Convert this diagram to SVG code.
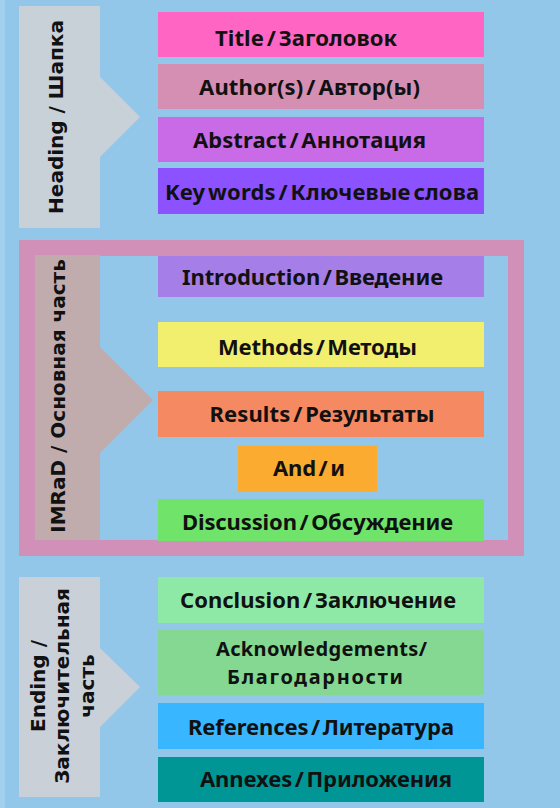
<svg xmlns="http://www.w3.org/2000/svg" width="560" height="808" viewBox="0 0 560 808">
<style>
.lbl{font-family:"Noto Sans","Open Sans",sans-serif;font-weight:bold;font-size:22px;word-spacing:-3px;fill:#111;text-anchor:middle}
.ack{font-size:20px}
.side{font-family:"DejaVu Sans","Liberation Sans",sans-serif;font-weight:bold;font-size:20px;fill:#111;text-anchor:middle}
</style>
<rect x="0" y="0" width="560" height="808" fill="#93c7ea"/>
<rect x="0" y="0" width="5" height="808" fill="#a2d0ef"/>
<g id="heading">
<path d="M19 6H100V77L140 117L100 157V228H19Z" fill="#c8d0d8"/>
<text class="side" transform="translate(63 117) rotate(-90)">Heading / Шапка</text>
</g>
<g id="imrad">
<rect x="27" y="248" width="489" height="300" fill="none" stroke="#d190b8" stroke-width="16"/>
<path d="M35 255H100V347L153 400L100 453V540H35Z" fill="#c0acac"/>
<text class="side" transform="translate(65 396) rotate(-90)">IMRaD / Основная часть</text>
</g>
<g id="ending">
<path d="M19 577H100V648L140 687L100 727V797H19Z" fill="#c9d0d8"/>
<text class="side" transform="translate(45 686) rotate(-90)">Ending /</text>
<text class="side" transform="translate(69 686) rotate(-90)">Заключительная</text>
<text class="side" transform="translate(94 686) rotate(-90)">часть</text>
</g>
<g id="title"><rect x="158" y="12" width="326" height="45" fill="#ff66c4"/><text class="lbl" x="306" y="46" textLength="182" lengthAdjust="spacing">Title / Заголовок</text></g>
<g id="authors"><rect x="158" y="64" width="326" height="45" fill="#d48fb3"/><text class="lbl" x="309.5" y="95" textLength="221" lengthAdjust="spacing">Author(s) / Автор(ы)</text></g>
<g id="abstract"><rect x="158" y="117" width="326" height="45" fill="#c96be6"/><text class="lbl" x="309.5" y="148" textLength="233" lengthAdjust="spacing">Abstract / Аннотация</text></g>
<g id="keywords"><rect x="158" y="168" width="326" height="46" fill="#8c52ff"/><text class="lbl" x="322" y="200" textLength="314" lengthAdjust="spacing">Key words / Ключевые слова</text></g>
<g id="introduction"><rect x="158" y="256" width="326" height="41" fill="#a57ee8"/><text class="lbl" x="312.5" y="285" textLength="261" lengthAdjust="spacing">Introduction / Введение</text></g>
<g id="methods"><rect x="158" y="322" width="326" height="45" fill="#f2ee6e"/><text class="lbl" x="317.5" y="355" textLength="199" lengthAdjust="spacing">Methods / Методы</text></g>
<g id="results"><rect x="158" y="391" width="326" height="46" fill="#f48962"/><text class="lbl" x="322" y="422" textLength="225" lengthAdjust="spacing">Results / Результаты</text></g>
<g id="and"><rect x="238" y="446" width="139" height="46" fill="#fbab2f"/><text class="lbl" x="309" y="476" textLength="72" lengthAdjust="spacing">And / и</text></g>
<g id="discussion"><rect x="158" y="499" width="326" height="42" fill="#70e36a"/><text class="lbl" x="317.5" y="530" textLength="271" lengthAdjust="spacing">Discussion / Обсуждение</text></g>
<g id="conclusion"><rect x="158" y="577" width="326" height="46" fill="#8ee9a6"/><text class="lbl" x="318" y="608" textLength="276" lengthAdjust="spacing">Conclusion / Заключение</text></g>
<g id="acknowledgements"><rect x="158" y="630" width="326" height="65" fill="#84d892"/><text class="lbl ack" x="321.5" y="656" textLength="211" lengthAdjust="spacing">Acknowledgements/</text><text class="lbl ack" x="315" y="684" textLength="176" lengthAdjust="spacing">Благодарности</text></g>
<g id="references"><rect x="158" y="703" width="326" height="46" fill="#38b6ff"/><text class="lbl" x="321" y="735" textLength="266" lengthAdjust="spacing">References / Литература</text></g>
<g id="annexes"><rect x="158" y="757" width="326" height="45" fill="#009696"/><text class="lbl" x="326" y="787" textLength="252" lengthAdjust="spacing">Annexes / Приложения</text></g>
<g id="connectors"></g>
</svg>
